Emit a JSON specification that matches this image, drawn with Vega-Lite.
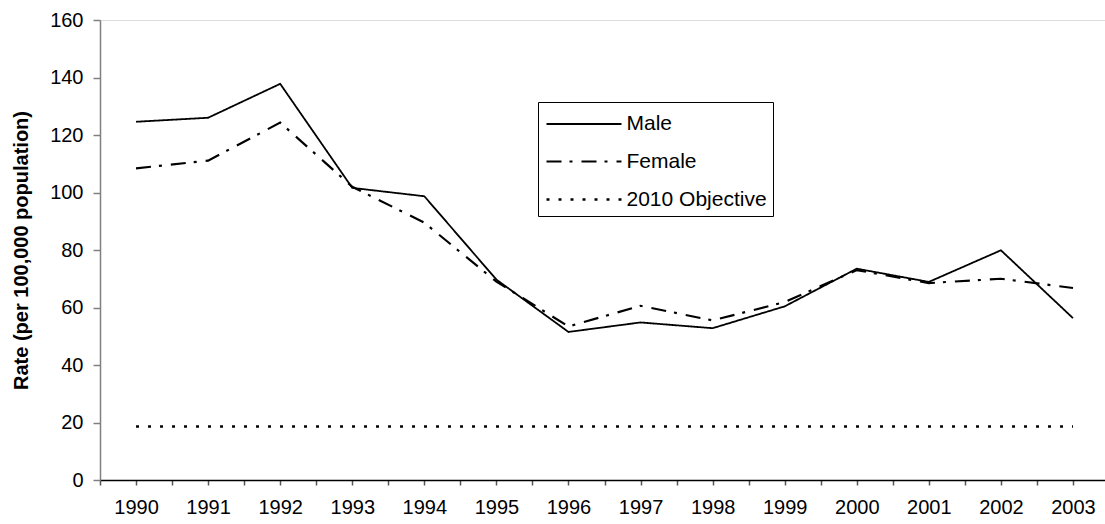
{
  "$schema": "https://vega.github.io/schema/vega-lite/v6.json",
  "autosize": {"type": "none"},
  "width": 1005,
  "height": 460,
  "padding": {"left": 100, "top": 20, "right": 0, "bottom": 44},
  "background": "white",
  "data": {
    "values": [
      {"year": 1990, "series": "Male", "rate": 124.6},
      {"year": 1991, "series": "Male", "rate": 126.0},
      {"year": 1992, "series": "Male", "rate": 137.8},
      {"year": 1993, "series": "Male", "rate": 101.6},
      {"year": 1994, "series": "Male", "rate": 98.7},
      {"year": 1995, "series": "Male", "rate": 69.7},
      {"year": 1996, "series": "Male", "rate": 51.5},
      {"year": 1997, "series": "Male", "rate": 54.8},
      {"year": 1998, "series": "Male", "rate": 52.8},
      {"year": 1999, "series": "Male", "rate": 60.4},
      {"year": 2000, "series": "Male", "rate": 73.5},
      {"year": 2001, "series": "Male", "rate": 68.9},
      {"year": 2002, "series": "Male", "rate": 79.9},
      {"year": 2003, "series": "Male", "rate": 56.3},
      {"year": 1990, "series": "Female", "rate": 108.4},
      {"year": 1991, "series": "Female", "rate": 111.1},
      {"year": 1992, "series": "Female", "rate": 124.3},
      {"year": 1993, "series": "Female", "rate": 102.0},
      {"year": 1994, "series": "Female", "rate": 89.5},
      {"year": 1995, "series": "Female", "rate": 69.0},
      {"year": 1996, "series": "Female", "rate": 53.4},
      {"year": 1997, "series": "Female", "rate": 60.6},
      {"year": 1998, "series": "Female", "rate": 55.5},
      {"year": 1999, "series": "Female", "rate": 61.9},
      {"year": 2000, "series": "Female", "rate": 73.0},
      {"year": 2001, "series": "Female", "rate": 68.5},
      {"year": 2002, "series": "Female", "rate": 70.0},
      {"year": 2003, "series": "Female", "rate": 66.8},
      {"year": 1990, "series": "2010 Objective", "rate": 18.6},
      {"year": 1991, "series": "2010 Objective", "rate": 18.6},
      {"year": 1992, "series": "2010 Objective", "rate": 18.6},
      {"year": 1993, "series": "2010 Objective", "rate": 18.6},
      {"year": 1994, "series": "2010 Objective", "rate": 18.6},
      {"year": 1995, "series": "2010 Objective", "rate": 18.6},
      {"year": 1996, "series": "2010 Objective", "rate": 18.6},
      {"year": 1997, "series": "2010 Objective", "rate": 18.6},
      {"year": 1998, "series": "2010 Objective", "rate": 18.6},
      {"year": 1999, "series": "2010 Objective", "rate": 18.6},
      {"year": 2000, "series": "2010 Objective", "rate": 18.6},
      {"year": 2001, "series": "2010 Objective", "rate": 18.6},
      {"year": 2002, "series": "2010 Objective", "rate": 18.6},
      {"year": 2003, "series": "2010 Objective", "rate": 18.6}
    ]
  },
  "mark": {"type": "line", "color": "black", "clip": false},
  "encoding": {
    "x": {
      "field": "year",
      "type": "quantitative",
      "scale": {"domain": [1989.5, 2003.444], "nice": false, "zero": false},
      "axis": {
        "title": null,
        "tickCount": 28,
        "labelExpr": "floor(datum.value) == datum.value ? format(datum.value, 'd') : ''",
        "grid": false,
        "domainColor": "#000000",
        "domainWidth": 1.5,
        "tickColor": "#555555",
        "tickSize": 5,
        "tickWidth": 1.5,
        "labelFont": "Liberation Sans",
        "labelFontSize": 20,
        "labelColor": "black",
        "labelPadding": 12,
        "labelOverlap": false,
        "labelFlush": false
      }
    },
    "y": {
      "field": "rate",
      "type": "quantitative",
      "scale": {"domain": [0, 160], "nice": false},
      "axis": {
        "title": "Rate (per 100,000 population)",
        "values": [0, 20, 40, 60, 80, 100, 120, 140, 160],
        "tickCount": 20,
        "grid": false,
        "domainColor": "#808080",
        "domainWidth": 1.5,
        "tickColor": "#808080",
        "tickSize": 7,
        "tickWidth": 1.5,
        "labelFont": "Liberation Sans",
        "labelFontSize": 20,
        "labelColor": "black",
        "labelPadding": 10,
        "titleFont": "Liberation Sans",
        "titleFontSize": 20,
        "titleFontWeight": "bold",
        "titleColor": "black",
        "titleX": -69
      }
    },
    "strokeDash": {
      "field": "series",
      "type": "nominal",
      "scale": {"domain": ["Male", "Female", "2010 Objective"], "range": [[1, 0], [15, 8, 3, 9], [3, 9]]},
      "legend": {
        "title": null,
        "orient": "none",
        "legendX": 438,
        "legendY": 82,
        "strokeColor": "#000000",
        "fillColor": "white",
        "padding": 6,
        "symbolType": "M-2.5,0H2.5",
        "symbolSize": 900,
        "symbolOffset": 23.5,
        "symbolStrokeColor": "black",
        "symbolStrokeWidth": 2,
        "rowPadding": 11,
        "labelFont": "Liberation Sans",
        "labelFontSize": 21,
        "labelColor": "black",
        "labelOffset": 26
      }
    },
    "strokeWidth": {
      "field": "series",
      "type": "nominal",
      "scale": {"domain": ["Male", "Female", "2010 Objective"], "range": [1.8, 2.5, 2]},
      "legend": null
    }
  }
}
